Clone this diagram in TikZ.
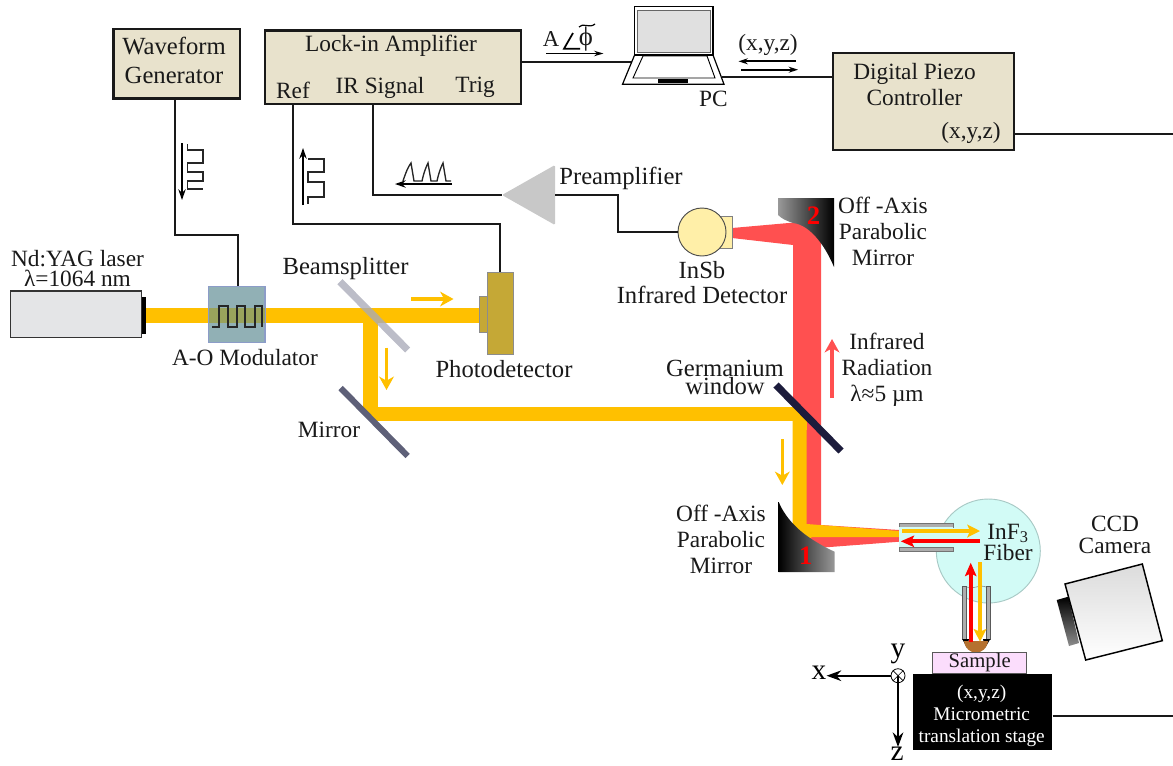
\documentclass[tikz,border=0pt]{standalone}
\usepackage{fontspec}
\setmainfont{Liberation Serif}
\usetikzlibrary{arrows.meta,calc,shapes.geometric}
\definecolor{panel}{HTML}{E8E2CC}
\definecolor{beamY}{HTML}{FFC000}
\definecolor{beamR}{HTML}{FF5050}
\definecolor{pureR}{HTML}{FF0000}
\definecolor{laserbody}{HTML}{E4E5E7}
\definecolor{aomfill}{HTML}{91B0B5}
\definecolor{aomedge}{HTML}{8C9CC8}
\definecolor{aombeam}{HTML}{99A35C}
\definecolor{pdfill}{HTML}{C5A836}
\definecolor{detfill}{HTML}{FFEFA8}
\definecolor{ampgray}{HTML}{C8C8C8}
\definecolor{fibercyan}{HTML}{D2FBF6}
\definecolor{brownnose}{HTML}{B5712F}
\definecolor{samplefill}{HTML}{FBDDFC}
\definecolor{splitgray}{HTML}{A9AAB8}
\definecolor{mirrorgray}{HTML}{5E6078}
\definecolor{windowdark}{HTML}{1C1C3C}
\tikzset{
  tx/.style={font=\fontsize{17.5}{#1}\selectfont,align=center,inner sep=0pt,text=black!90},
  tx/.default=21,
  txw/.style={font=\fontsize{18.5}{#1}\selectfont,align=center,inner sep=0pt,text=black!90},
  txw/.default=21,
  axlabel/.style={font=\fontsize{22}{22}\selectfont,inner sep=0pt,text=black},
  panelbox/.style={draw=black!90,line width=2.2pt,fill=panel,inner sep=0pt,align=center},
  wire/.style={draw=black!90,line width=1.5pt},
  thin wire/.style={draw=black!85,line width=1pt},
  signal/.style={draw=black,line width=2pt,-{Stealth[length=8pt,width=5.5pt]}},
  yarrow/.style={draw=beamY,line width=2.6pt,-{Stealth[length=10pt,width=11pt,inset=3pt]}},
  rarrow/.style={draw=pureR,line width=2.8pt,-{Stealth[length=10pt,width=8.5pt,inset=2pt]}},
  fiberY/.style={draw=beamY,line width=3pt,-{Stealth[length=9.5pt,width=9.5pt,inset=2pt]}},
  axisarrow/.style={draw=black,line width=1.2pt,-{Stealth[length=11pt,width=8pt]}},
}
\newcommand{\rectnode}[7]{%
  \pgfmathsetmacro\rcx{(#3+#5)/2}\pgfmathsetmacro\rcy{(#4+#6)/2}%
  \pgfmathsetmacro\rw{(#5-#3)*0.75}\pgfmathsetmacro\rh{(#6-#4)*0.75}%
  \node[#1,minimum width=\rw pt,minimum height=\rh pt] (#2) at (\rcx,\rcy) {#7};}
\begin{document}
\begin{tikzpicture}[x=0.75pt,y=-0.75pt,line join=miter]
\useasboundingbox (0,0) rectangle (1173,765);
% ---------- beams
\fill[beamR] (732,228) -- (800,222) -- (821,232) -- (821,525) -- (899,530) -- (899,541.7) -- (817,548) -- (800,535) -- (793,525) -- (793,245) -- (732,238) -- cycle;
\fill[beamY] (792.7,421) -- (792.7,530) -- (806,541) -- (812,537) -- (899,537) -- (899,531) -- (806.7,524) -- (806.7,421) -- cycle;
\draw[beamY,line width=11.25pt,line join=bevel] (146,315) -- (481,315);
\draw[beamY,line width=10.8pt,line join=bevel] (370.5,322) -- (370.5,414.2) -- (799.7,414.2) -- (799.7,430);
% ---------- laser
\rectnode{draw=black!80,line width=1pt,fill=laserbody}{laser}{10.3}{291}{141.6}{337.7}{}
\fill[black] (141.6,297) rectangle (146,334);
\node[tx=15] (lasertext) at (77.5,269) {Nd:YAG laser\\λ=1064 nm};
% ---------- AOM
\rectnode{draw=aomedge,line width=.8pt,fill=aomfill}{aom}{208.6}{286.7}{265}{342.7}{}
\fill[aombeam] (209,307.7) rectangle (264.6,322.7);
\draw[line width=1.5pt,black!85] (212,326.7) -- (219,326.7) -- (219,305.7) -- (228,305.7) -- (228,326.7) -- (237,326.7) -- (237,305.7) -- (245,305.7) -- (245,326.7) -- (254.5,326.7) -- (254.5,305.7) -- (262,305.7) -- (262,326.7);
\node[tx] (aomtext) at (245,358) {A-O Modulator};
% ---------- photodetector
\rectnode{draw=black!45,line width=.6pt,fill=pdfill}{pdsmall}{481}{296}{487}{332.7}{}
\rectnode{draw=black!45,line width=.6pt,fill=pdfill}{pd}{487}{272.7}{513.6}{354.7}{}
\node[txw] (pdtext) at (504,369) {Photodetector};
% ---------- splitter and mirrors
\draw[line width=5.4pt,draw=splitgray,draw opacity=.78] (340,281.7) -- (407.6,350);
\draw[line width=4.6pt,draw=mirrorgray] (340.6,388) -- (407.6,456);
\node[txw] (bstext) at (345.6,269) {Beamsplitter};
\node[tx] (mirrortext) at (329,430) {Mirror};
\draw[line width=5.4pt,draw=windowdark] (776,385) -- (841,451);
\node[txw=13.5] (getext) at (725,377.5) {Germanium\\window};
\node[tx=19.5] (irtext) at (887,370) {Infrared\\Radiation\\λ≈5 µm};
% ---------- beam arrows
\draw[yarrow] (411,299) -- (453.5,299);
\draw[yarrow] (386.5,347.7) -- (386.5,390);
\draw[yarrow] (782.3,439) -- (782.3,485);
\draw[draw=beamR,line width=2.6pt,-{Stealth[length=10pt,width=11pt,inset=3pt]}] (832,398) -- (832,339);
% ---------- top boxes
\rectnode{panelbox}{wave}{113.6}{29}{240}{98.7}{}
\node[txw=21.75] (wavetext) at (174,60.5) {Waveform\\Generator};
\rectnode{panelbox}{lock}{265}{30.7}{521}{104}{}
\node[tx] (locktext) at (391,46) {Lock-in Amplifier};
\node[tx] (ref) at (293,90) {Ref};
\node[tx] (irsig) at (380,88) {IR Signal};
\node[tx] (trig) at (475,87) {Trig};
\rectnode{panelbox}{piezo}{833}{53}{1014}{150}{}
\node[tx=19.5] (piezotext) at (914.5,84.5) {Digital Piezo\\Controller};
\node[tx] (piezoxyz) at (971,133) {(x,y,z)};
% ---------- waveform symbols
\draw[signal] (182,143) -- (182,200);
\draw[thin wire] (187.5,144) -- (187.5,150) -- (203,150) -- (203,163) -- (187.5,163) -- (187.5,172) -- (203,172) -- (203,181) -- (187.5,181) -- (187.5,189) -- (203,189);
\draw[signal] (303,205) -- (303,148);
\draw[thin wire] (308,159) -- (324,159) -- (324,172) -- (308,172) -- (308,182) -- (324,182) -- (324,197) -- (308,197) -- (308,204);
\draw[signal] (452,184) -- (395,184);
\draw[thin wire] (403,181) .. controls (406,172) and (408,167) .. (411,163) -- (414,181) -- (422,181) .. controls (424,172) and (426,167) .. (428,163) -- (431,181) -- (437,181) .. controls (439,172) and (441,167) .. (443,163) -- (446,181) -- (451,181);
% ---------- preamplifier
\fill[ampgray,rounded corners=1pt] (502,195) coordinate (ampin) -- (555,165) -- (555,225) -- cycle;
\coordinate (ampout) at (555,195);
\node[txw] (amptext) at (621,178) {Preamplifier};
% ---------- detector
\rectnode{draw=black!50,line width=.6pt,fill=detfill}{detwin}{716}{216}{732}{248}{}
\node[circle,draw=black!70,line width=.7pt,fill=detfill,minimum size=36pt,inner sep=0pt] (det) at (702,232) {};
\node[txw=18.75] (dettext) at (702,282.5) {InSb\\Infrared Detector};
% ---------- connectors
\draw[wire] ([xshift=-1.3pt]wave.south) -- ++(0,135) -| ([xshift=1pt]aom.north);
\draw[wire] (ref.south |- lock.south) -- ++(0,119) -| (pd.north);
\draw[wire] ([xshift=-5.6pt]irsig.south |- lock.south) |- (ampin);
\draw[wire] (ampout) -- ++(63,0) |- (det.west);
% ---------- PC
\coordinate (pcin) at (632,61.7);
\coordinate (pcout) at (722,76.7);
\coordinate (rightA) at (1173,134);
\coordinate (rightB) at (1173,716);
\draw[wire] (lock.east |- pcin) -- (pcin);
\draw[wire] (pcout) -- (pcout -| piezo.west);
\draw[wire] (rightA -| piezo.east) -- (rightA);
\draw[draw=black,line width=.9pt,fill=white] (622.5,84.3) -- (724,84.3) -- (713,55) -- (634.6,55) -- cycle;
\draw[draw=black,line width=.7pt] (633,78) -- (715,78) -- (707,56) -- (643,56) -- cycle;
\rectnode{draw=black,line width=.9pt,fill=white}{screen}{634.6}{6.7}{713}{55}{}
\fill[black!12,draw=black!60,line width=.4pt] (637.5,10) rectangle (710.7,52);
\fill[black] (658,79) rectangle (687.5,83);
\node[tx] (pctext) at (713.5,99) {PC};
\node[inner sep=0pt,text=black!90,font=\fontsize{17}{18}\selectfont] (atext) at (551,39) {A};
\draw[black,line width=1.3pt] (573,33) -- (564,48.7) -- (580,48.7);
\node[tx,font=\fontsize{20}{20}\selectfont] (phitext) at (586,39) {ϕ};
\draw[black,line width=.9pt] (579,27) .. controls (583,22) and (589,29) .. (595,24);
\draw[draw=black,line width=1.4pt,-{Stealth[length=7pt,width=4pt]}] (546,53.5) -- (603.5,53.5);
\node[tx] (xyztop) at (768,45) {(x,y,z)};
\draw[draw=black,line width=1.5pt,-{Stealth[length=7pt,width=4.5pt]}] (796,61.3) -- (738.5,61.3);
\draw[draw=black,line width=1.5pt,-{Stealth[length=7pt,width=4.5pt]}] (741,69.7) -- (798,69.7);
% ---------- parabolic mirrors
\path[left color=black!40,right color=black] (778,198) -- (834,198) -- (834,267) .. controls (827,250) and (812,225) .. (793,223) .. controls (787,221) and (782,219) .. (778,215) -- cycle;
\node[font=\fontsize{20}{20}\bfseries\selectfont,text=pureR,inner sep=0pt] (two) at (813.5,216) {2};
\node[tx=19.5] (oap2) at (883,231) {Off -Axis\\Parabolic\\Mirror};
\path[left color=black,right color=black!40] (778.7,502) .. controls (784,515) and (795,528) .. (810,538) .. controls (816,542) and (826,548) .. (834.7,551.7) -- (834.7,572) -- (778.7,572) -- cycle;
\node[font=\fontsize{20}{20}\bfseries\selectfont,text=pureR,inner sep=0pt] (one) at (805.7,556) {1};
\node[tx=19.5] (oap1) at (721,539) {Off -Axis\\Parabolic\\Mirror};
% ---------- fibre sphere and connector
\node[circle,draw=black!20!fibercyan,line width=.7pt,fill=fibercyan,minimum size=78pt,inner sep=0pt] (sphere) at (988.3,551) {};
\fill[black!32,draw=black!55,line width=.3pt] (899,522.7) rectangle (952.7,527);
\fill[black!32,draw=black!55,line width=.3pt] (899,546.7) rectangle (952.7,550.7);
\fill[fibercyan] (899,527) rectangle (952.7,546.7);
\node[tx=15.75] (fibertext) at (1008,542) {InF\textsubscript{3}\\Fiber};
% ---------- objective
\fill[black!32,draw=black!65,line width=.4pt] (962.3,586) rectangle (966.5,639);
\fill[black!32,draw=black!65,line width=.4pt] (986,586) rectangle (990.3,639);
\draw[black!50,line width=.4pt] (966.5,587) .. controls (973,590) and (979,584) .. (986,587);
\fill[black] (962.3,639) -- (969,639) -- (967,648) -- cycle;
\fill[black] (990.3,639) -- (983,639) -- (985,648) -- cycle;
\fill[brownnose] (964,641) -- (988,641) .. controls (987,648.5) and (982,652.5) .. (976,652.5) .. controls (970,652.5) and (965,648.5) .. (964,641) -- cycle;
\draw[fiberY] (902,531) -- (980,531);
\draw[rarrow] (980,541.3) -- (900.7,541.3);
\draw[rarrow] (970.7,641.7) -- (970.7,562.7);
\draw[fiberY] (980,562.3) -- (980,641.7);
% ---------- stage
\rectnode{draw=black!65,line width=.7pt,fill=samplefill,font=\fontsize{15.5}{18}\selectfont,text=black!90,inner sep=0pt}{sample}{932.7}{652.7}{1026.7}{673.3}{Sample}
\rectnode{fill=black}{stage}{912.7}{674}{1052.3}{750}{}
\node[text=white,font=\fontsize{14.5}{16.5}\selectfont,align=center,inner sep=0pt] (stagetext) at (981.7,715.5) {(x,y,z)\\Micrometric\\translation stage};
\draw[wire] (rightB -| stage.east) -- (rightB);
% ---------- axes
\node[circle,draw=black,line width=.6pt,minimum size=10.5pt,inner sep=0pt] (axis) at (898,675.7) {};
\draw[black,line width=.5pt] (axis.north west) -- (axis.south east) (axis.north east) -- (axis.south west);
\node[axlabel] (xlab) at (819,673) {x};
\node[axlabel] (ylab) at (898,654) {y};
\node[axlabel] (zlab) at (897,754) {z};
\draw[axisarrow] (axis.west) -- (axis.west -| xlab.east);
\draw[axisarrow] (axis.center) -- (axis.center |- zlab.north);
% ---------- camera
\path[top color=black,bottom color=black!45] (1056.7,600) -- (1068.3,596.7) -- (1079,643) -- (1069,646) -- cycle;
\path[draw=black,line width=1.1pt,top color=black!14,bottom color=white] (1065,584) -- (1142.3,564) -- (1162.3,640.7) -- (1085.7,660) -- cycle;
\node[tx=16.5] (ccdtext) at (1115,535) {CCD\\Camera};
\end{tikzpicture}
\end{document}
